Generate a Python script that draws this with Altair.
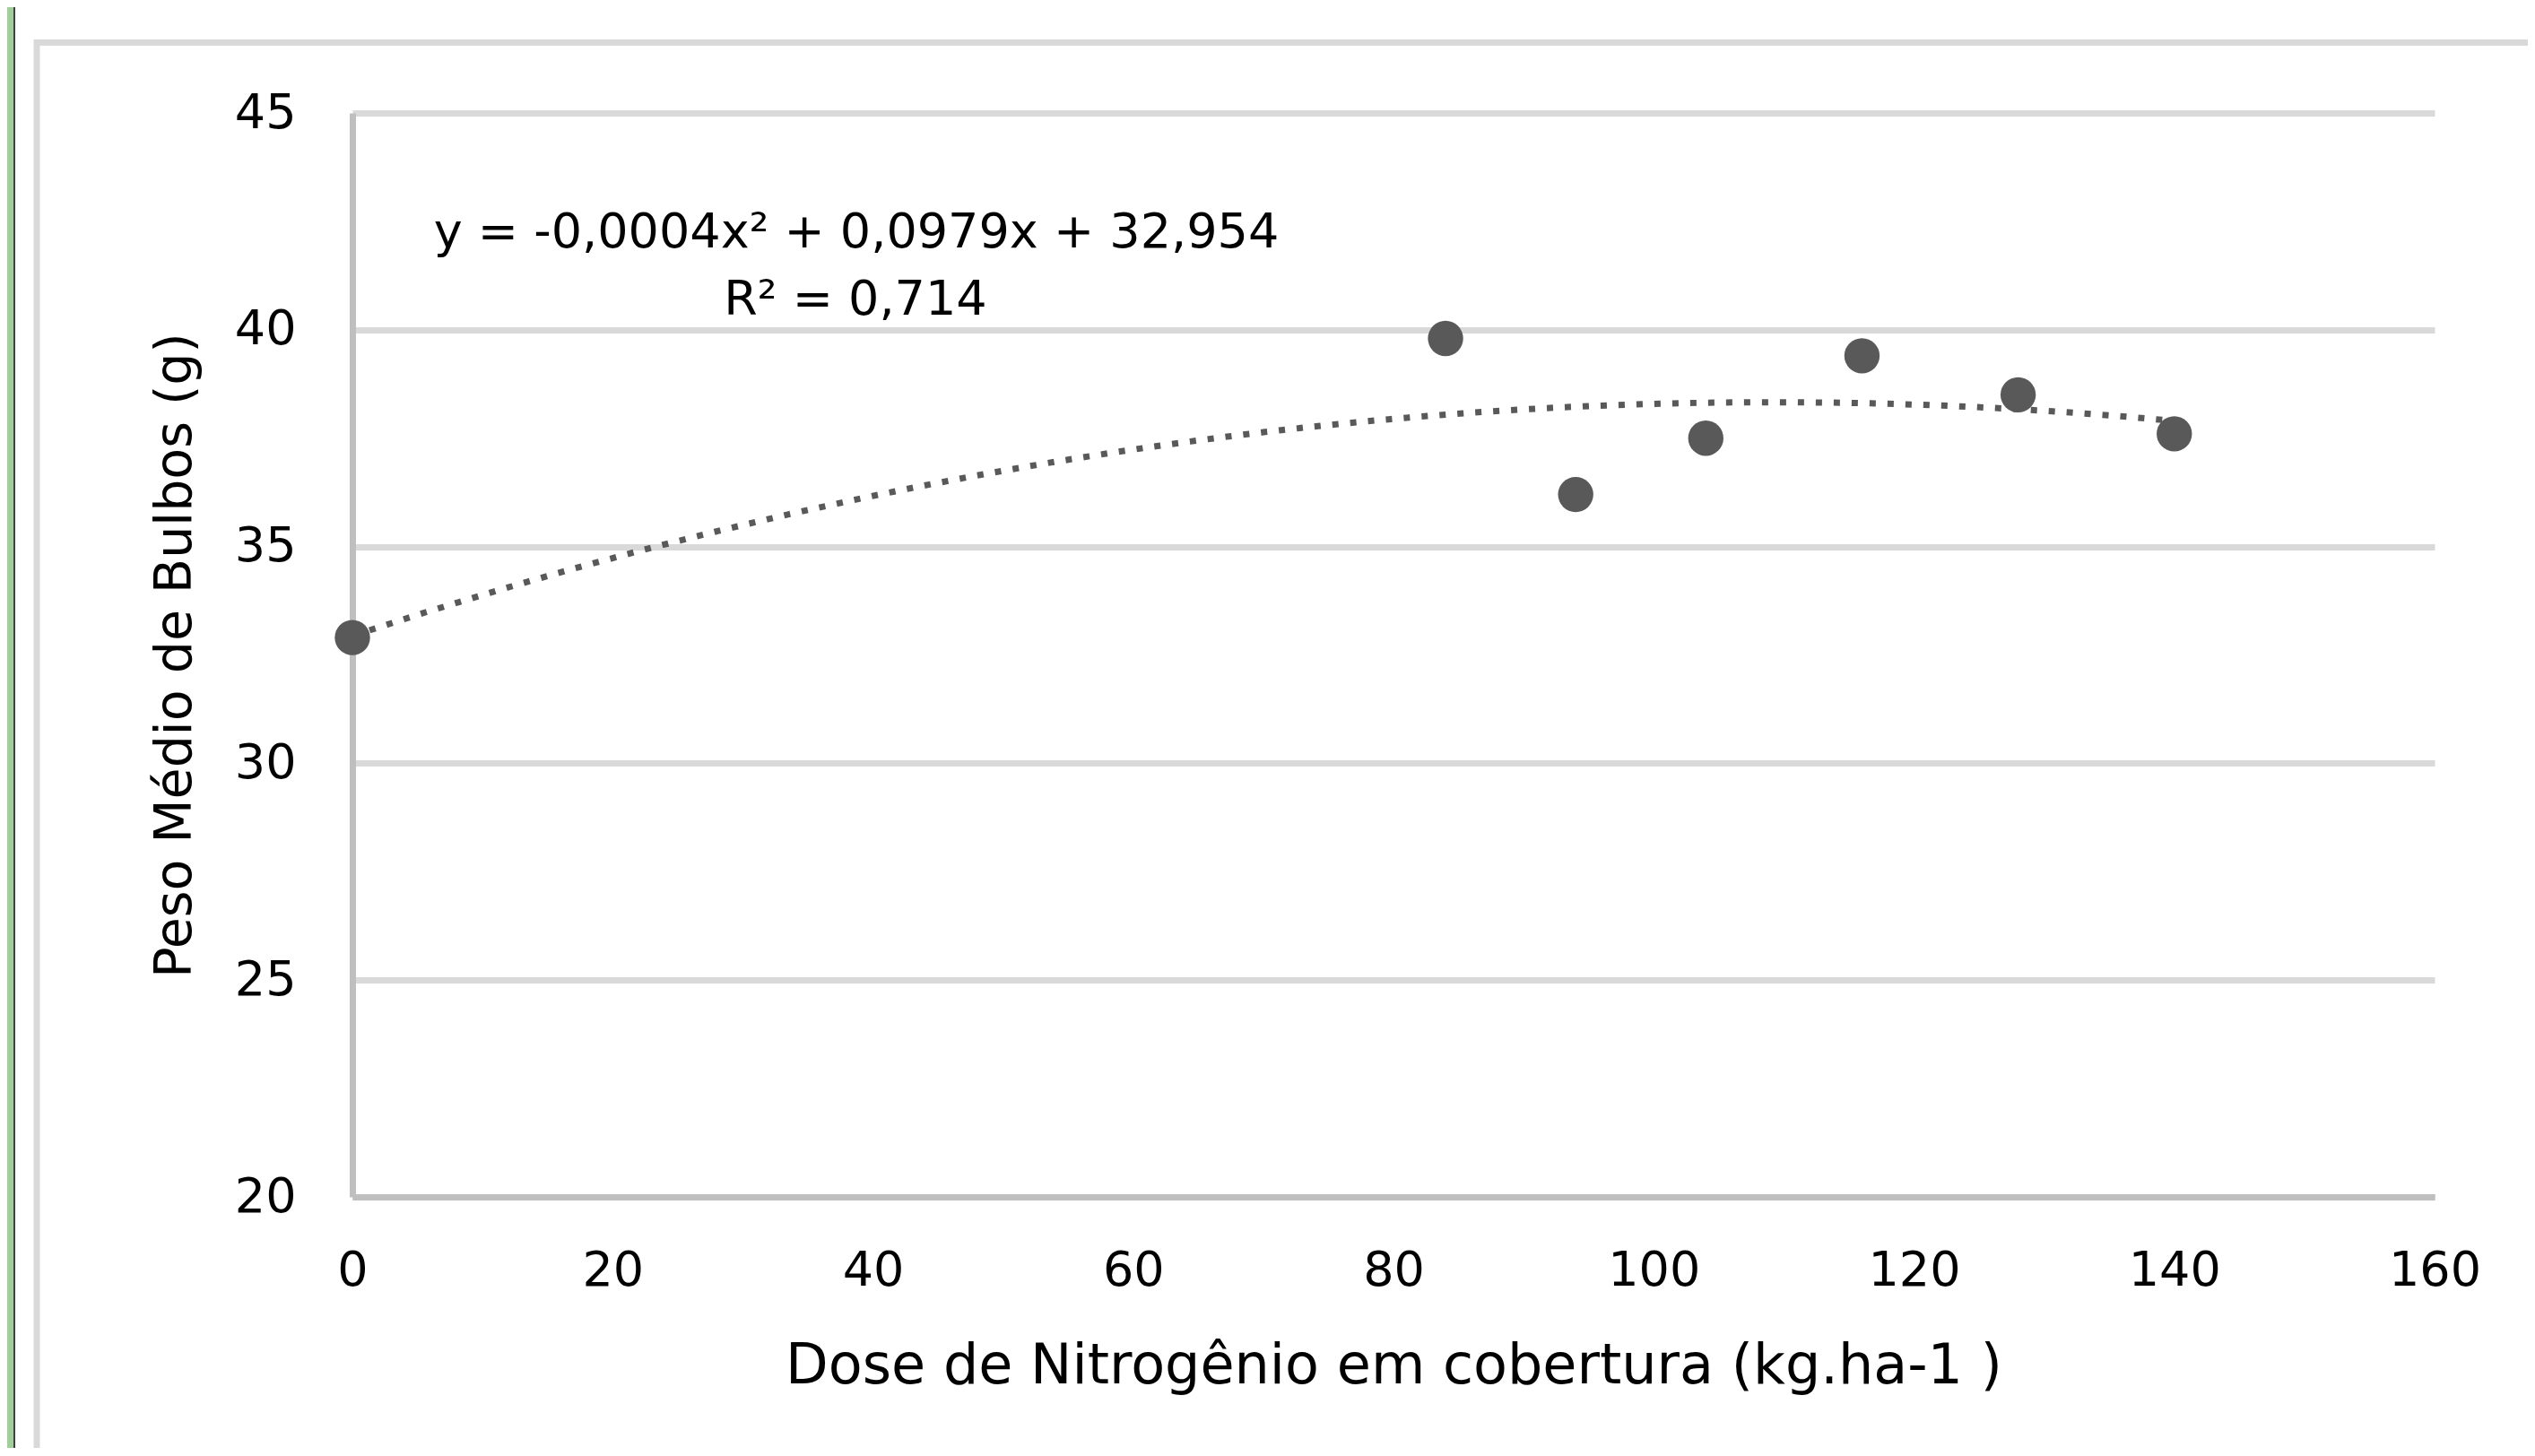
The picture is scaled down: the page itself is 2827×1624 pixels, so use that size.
import altair as alt
import pandas as pd

# ---- data ----
dose = [0, 84, 94, 104, 116, 128, 140]
peso = [32.9, 39.8, 36.2, 37.5, 39.4, 38.5, 37.6]
x_ticks = [0, 20, 40, 60, 80, 100, 120, 140, 160]
y_ticks = [20, 25, 30, 35, 40, 45]
x_title = "Dose de Nitrogênio em cobertura (kg.ha-1 )"
y_title = "Peso Médio de Bulbos (g)"
eq_line = "y = -0,0004x² + 0,0979x + 32,954"
r2_line = "R² = 0,714"

df = pd.DataFrame({"dose": dose, "peso": peso})
one = pd.DataFrame({"k": [0]})

W, H = 2322, 1209
FONT = "DejaVu Sans"
GREY = "#595959"

xs = alt.Scale(domain=[0, 160], nice=False, zero=False)
ys = alt.Scale(domain=[20, 45], nice=False, zero=False)

x_axis = alt.Axis(
    values=x_ticks, title=x_title, grid=False, ticks=False, tickSize=0,
    domainColor="#bfbfbf", domainWidth=7,
    labelFont=FONT, labelFontSize=54, labelColor="#000000",
    labelPadding=82, labelBaseline="middle", labelFlush=False, labelOverlap=False,
    titleFont=FONT, titleFontSize=62, titleFontWeight="normal", titleColor="#000000",
    titleX=W / 2, titleY=188, titleAlign="center", titleBaseline="middle",
)
y_axis = alt.Axis(
    values=y_ticks, title=y_title, grid=True,
    gridColor={"condition": {"test": "datum.value === 20", "value": "#bfbfbf"}, "value": "#d9d9d9"},
    gridWidth=7, ticks=False, tickSize=0,
    domainColor="#bfbfbf", domainWidth=7,
    labelFont=FONT, labelFontSize=54, labelColor="#000000",
    labelPadding=63, labelBaseline="middle", labelOverlap=False,
    titleFont=FONT, titleFontSize=57, titleFontWeight="normal", titleColor="#000000",
    titleX=-198, titleY=H / 2, titleAngle=270, titleAlign="center", titleBaseline="middle",
)

X = alt.X("dose:Q", scale=xs, axis=x_axis)
Y = alt.Y("peso:Q", scale=ys, axis=y_axis)

points = alt.Chart(df).mark_circle(size=1550, color=GREY, opacity=1).encode(x=X, y=Y)

trend = (
    alt.Chart(df)
    .transform_regression("dose", "peso", method="poly", order=2, extent=[0, 140])
    .mark_line(color=GREY, strokeWidth=7, strokeDash=[7, 13])
    .encode(x=X, y=Y)
)

eq1 = alt.Chart(one).mark_text(
    font=FONT, fontSize=54, color="#000000", align="center", baseline="middle"
).encode(x=alt.value(562), y=alt.value(134), text=alt.value(eq_line))
eq2 = alt.Chart(one).mark_text(
    font=FONT, fontSize=54, color="#000000", align="center", baseline="middle"
).encode(x=alt.value(561), y=alt.value(209), text=alt.value(r2_line))

# decorative frame around the chart area and page strip
frame_top = alt.Chart(one).mark_rule(color="#d9d9d9", strokeWidth=7).encode(
    x=alt.value(-355), x2=alt.value(2440), y=alt.value(-78.5))
frame_left = alt.Chart(one).mark_rule(color="#d9d9d9", strokeWidth=7).encode(
    x=alt.value(-352), y=alt.value(-82), y2=alt.value(1520))
green = alt.Chart(one).mark_rule(color="#a0cf9a", strokeWidth=8).encode(
    x=alt.value(-382), y=alt.value(-130), y2=alt.value(1520))
dark = alt.Chart(one).mark_rule(color="#404040", strokeWidth=2).encode(
    x=alt.value(-377), y=alt.value(-130), y2=alt.value(1520))

chart = (
    alt.layer(points, trend, eq1, eq2, frame_top, frame_left, green, dark)
    .properties(
        width=W, height=H,
        background="white",
        autosize=alt.AutoSizeParams(type="none"),
        padding={"left": 385, "top": 118, "right": 104, "bottom": 280},
    )
    .configure_view(stroke=None, strokeWidth=0)
    .configure_axis(gridCap="butt", domainCap="butt")
)

chart.save("out.html", embed_options={"renderer": "svg", "actions": False})
